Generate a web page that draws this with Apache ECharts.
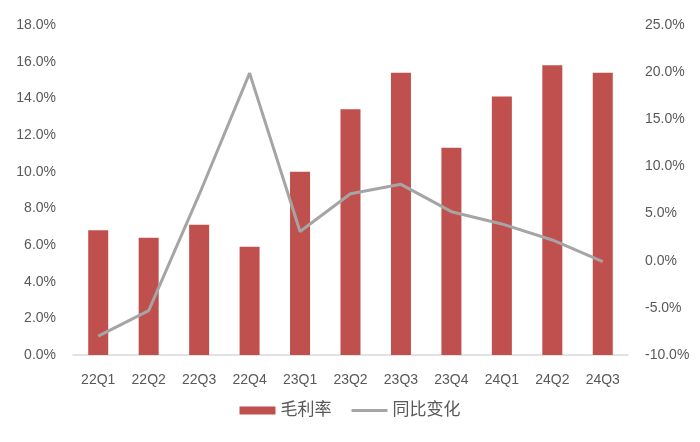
<!DOCTYPE html>
<html>
<head>
<meta charset="utf-8">
<script src="https://cdn.jsdelivr.net/npm/echarts@6/dist/echarts.min.js"></script>
<style>
html,body{margin:0;padding:0;background:#fff;}
#chart{width:700px;height:442px;}
</style>
</head>
<body>
<div id="chart"></div>
<script>
const categories = ['22Q1','22Q2','22Q3','22Q4','23Q1','23Q2','23Q3','23Q4','24Q1','24Q2','24Q3'];
const grossMargin = [6.8, 6.4, 7.1, 5.9, 10.0, 13.4, 15.4, 11.3, 14.1, 15.8, 15.4];
const yoyChange = [-8.0, -5.3, 7.0, 19.9, 3.1, 7.1, 8.1, 5.2, 3.9, 2.2, -0.1];
const seriesNames = ['毛利率', '同比变化'];

const font = "'Liberation Sans', 'Noto Sans CJK SC', sans-serif";
const textColor = '#595959';

const chart = echarts.init(document.getElementById('chart'));
chart.setOption({
  animation: false,
  backgroundColor: '#ffffff',
  textStyle: { fontFamily: font },
  grid: { left: 73, right: 72, top: 25, bottom: 87, containLabel: false },
  legend: {
    bottom: 18,
    left: 'center',
    itemGap: 20,
    itemWidth: 36,
    itemHeight: 8,
    textStyle: { fontSize: 17, color: textColor, fontFamily: font },
    data: [
      { name: seriesNames[0], icon: 'rect' },
      { name: seriesNames[1], icon: 'path://M0,0 H36 V3 H0 Z', itemStyle: { color: '#a5a5a5' } }
    ]
  },
  xAxis: {
    type: 'category',
    data: categories,
    axisLine: { lineStyle: { color: '#d9d9d9', width: 1.5 } },
    axisTick: { show: false },
    axisLabel: { color: textColor, fontSize: 14, margin: 18 }
  },
  yAxis: [
    {
      type: 'value', min: 0, max: 18, interval: 2,
      splitLine: { show: false },
      axisLine: { show: false },
      axisTick: { show: false },
      axisLabel: { color: textColor, fontSize: 14, margin: 17, formatter: v => v.toFixed(1) + '%' }
    },
    {
      type: 'value', min: -10, max: 25, interval: 5,
      splitLine: { show: false },
      axisLine: { show: false },
      axisTick: { show: false },
      axisLabel: { color: textColor, fontSize: 14, margin: 17, formatter: v => v.toFixed(1) + '%' }
    }
  ],
  series: [
    {
      name: seriesNames[0],
      type: 'bar',
      yAxisIndex: 0,
      data: grossMargin,
      barWidth: 20,
      itemStyle: { color: '#c0504d' }
    },
    {
      name: seriesNames[1],
      type: 'line',
      yAxisIndex: 1,
      data: yoyChange,
      symbol: 'none',
      showSymbol: false,
      lineStyle: { color: '#a5a5a5', width: 3 },
      itemStyle: { color: '#a5a5a5' }
    }
  ]
});
</script>
</body>
</html>
